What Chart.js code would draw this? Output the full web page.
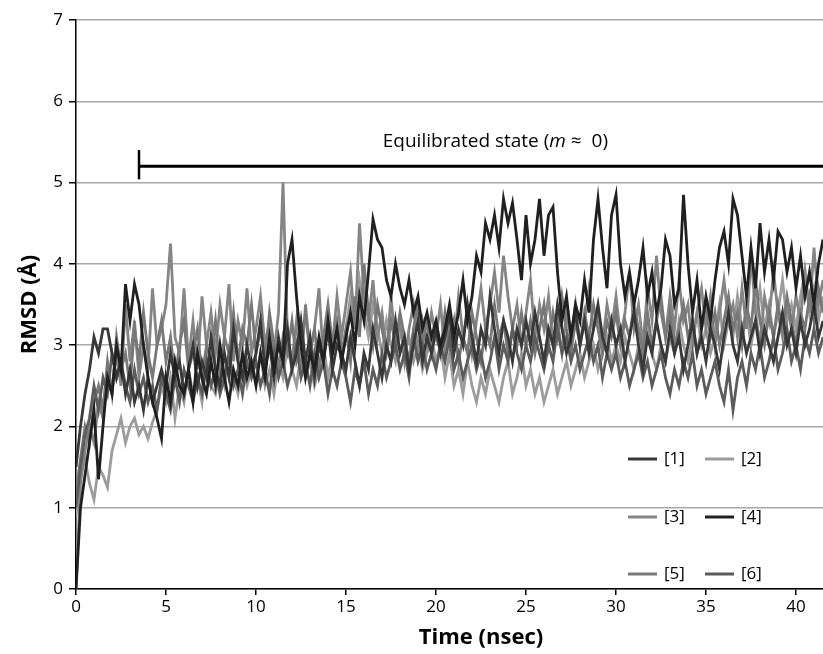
<!DOCTYPE html>
<html>
<head>
<meta charset="utf-8">
<script src="https://cdn.jsdelivr.net/npm/chart.js@4.4.1/dist/chart.umd.min.js"></script>
<style>
  body { margin: 0; background: #fff; }
  #wrap { width: 823px; height: 654px; }
</style>
</head>
<body>
<div id="wrap"><canvas id="rmsdChart" width="823" height="654"></canvas></div>
<script>
// time axis, 0.25 nsec steps up to 41.5
const timeNs = Array.from({ length: 167 }, (_, i) => i * 0.25);

const seriesLabels = ["[1]", "[2]", "[3]", "[4]", "[5]", "[6]"];
const seriesColors = ["#383838", "#9c9c9c", "#858585", "#202020", "#787878", "#5c5c5c"];

const rmsd1 = [
  1.5, 2.0, 2.4, 2.7, 3.1, 2.9, 3.2, 3.2, 2.9, 2.6, 2.8, 2.4, 2.7, 2.3, 2.5, 2.2, 2.6, 2.3, 2.5, 2.7,
  2.5, 2.9, 2.6, 2.8, 2.4, 2.7, 3.0, 2.5, 2.8, 2.6, 3.1, 2.7, 2.5, 2.9, 2.6, 3.2, 2.8, 2.6, 3.0, 2.7,
  2.9, 3.3, 2.7, 3.0, 2.6, 3.1, 2.8, 3.2, 2.7, 2.9, 3.3, 2.8, 3.1, 2.6, 3.0, 2.8, 3.2, 2.7, 3.0, 2.9,
  2.7, 3.1, 2.8, 2.5, 2.9, 2.7, 3.2, 2.9, 2.6, 3.0, 2.8, 3.3, 2.9, 3.1, 2.7, 3.0, 3.3, 2.8, 3.1, 2.9,
  3.2, 2.9, 3.1, 3.4, 2.9, 3.2, 3.0, 3.5, 3.1, 2.8, 3.2, 3.0, 3.6, 3.2, 2.9, 3.3, 3.1, 2.8, 3.2, 3.0,
  3.3, 3.0, 3.4, 3.1, 2.8, 3.2, 3.0, 3.5, 3.2, 2.9, 3.1, 3.4, 3.0, 3.3, 2.9, 3.2, 3.5, 3.1, 2.9, 3.3,
  3.0, 3.2, 2.8, 3.1, 3.4, 3.0, 2.7, 3.1, 2.9, 3.3, 3.0, 2.8, 3.2, 2.9, 3.1, 2.7, 3.0, 3.3, 2.9, 3.1,
  2.8, 3.2, 3.0, 2.7, 3.1, 3.4, 3.0, 2.8, 3.2, 2.9, 3.1, 3.3, 2.9, 3.2, 3.0, 2.8, 3.1, 3.4, 3.0, 3.2,
  2.9, 3.3, 3.0, 3.2, 3.5, 3.1, 3.3
];
const rmsd2 = [
  0.9, 1.4, 1.6, 1.3, 1.1, 1.5, 1.4, 1.25, 1.7, 1.9, 2.1, 1.8, 2.0, 2.1, 1.9, 2.0, 1.85, 2.05, 2.2, 2.5,
  2.3, 2.6, 2.1, 2.5, 2.3, 2.7, 2.4, 2.6, 2.3, 2.8, 2.5, 2.4, 2.7, 2.5, 2.9, 2.6, 2.4, 2.8, 2.5, 2.7,
  2.6, 2.9, 2.5, 2.7, 2.4, 2.8, 2.6, 3.0, 2.7, 2.5, 2.9, 2.6, 2.8, 2.5, 2.7, 3.0, 2.6, 2.9, 3.1, 2.8,
  3.2, 3.6, 3.3, 3.8, 3.4, 3.1, 3.5, 3.2, 2.9, 3.3, 3.0, 2.8, 3.2, 2.9, 3.1, 2.8, 3.0, 2.7, 2.9, 3.1,
  2.8, 3.0, 2.6, 2.9, 2.5, 2.7, 2.4, 2.8, 2.5, 2.3, 2.6, 2.4, 2.7, 2.5, 2.3, 2.6, 2.8, 2.4, 2.6, 2.9,
  2.5, 2.7, 2.4, 2.6, 2.3, 2.5, 2.7, 2.4, 2.6, 2.8, 2.5, 2.7, 2.9, 2.6, 2.8, 3.0, 2.7, 2.9, 3.1, 2.8,
  3.0, 2.8, 3.1, 2.9, 2.7, 3.0, 2.8, 3.2, 2.9, 2.7, 3.0, 2.8, 3.1, 2.9, 3.3, 3.0, 2.8, 3.1, 3.4, 3.0,
  3.2, 2.9, 3.1, 3.5, 3.0, 3.3, 3.1, 3.6, 3.2, 3.4, 3.0, 3.3, 3.7, 3.2, 3.5, 3.1, 3.4, 3.8, 3.3, 3.5,
  3.2, 3.6, 3.9, 3.4, 3.7, 3.3, 3.6
];
const rmsd3 = [
  0.0, 1.3, 1.7, 2.0, 1.8, 2.3, 2.1, 2.6, 2.4, 2.9, 2.5, 3.5, 2.8, 3.3, 2.6, 3.0, 2.7, 3.7, 3.0, 3.2,
  3.5, 4.25, 3.1, 2.9, 3.7, 2.8, 3.3, 2.7, 3.6, 3.0, 3.4, 2.9, 3.5, 3.1, 3.75, 2.8, 3.3, 3.0, 3.7, 2.9,
  3.2, 3.6, 3.0, 3.3, 2.9, 3.4, 5.0, 3.1, 2.8, 3.3, 2.7, 3.5, 2.9, 3.2, 3.7, 2.8, 3.4, 3.0, 3.6, 3.1,
  3.5, 3.9, 3.2, 4.5, 3.6, 3.3, 3.8, 3.1, 3.4, 2.9, 3.6, 3.0, 3.3, 2.8, 3.2, 3.5, 2.9, 3.3, 3.0, 3.4,
  3.1, 3.5, 2.9, 3.3, 3.0, 3.6, 3.1, 3.4, 2.9, 3.3, 3.7, 3.2, 3.5, 3.9, 3.4, 4.1, 3.6, 3.2, 3.5, 3.0,
  3.4, 3.8, 3.1, 3.5, 3.2, 3.6, 3.0, 3.3, 2.9, 3.4, 3.1, 3.5, 3.0, 3.3, 3.7, 3.2, 3.4, 3.0, 3.5, 3.2,
  3.6, 3.1, 3.4, 3.9, 3.2, 3.5, 3.0, 3.7, 3.3, 4.1, 3.4, 3.1, 3.6, 3.2, 3.8, 3.3, 3.5, 3.0, 3.4, 3.7,
  3.2, 3.6, 3.0, 3.4, 3.8, 3.3, 3.5, 3.1, 3.7, 3.2, 4.1, 3.4, 3.0, 3.6, 3.3, 3.9, 3.4, 3.1, 3.5, 3.2,
  3.6, 3.3, 3.9, 3.4, 4.2, 3.5, 3.8
];
const rmsd4 = [
  0.0, 1.0, 1.4, 1.8, 2.2, 1.35, 2.0, 2.6, 2.4, 3.0, 2.7, 3.75, 3.3, 3.75, 3.5, 3.0, 2.6, 2.3, 2.1, 1.85,
  2.6, 2.3, 2.8, 2.5, 2.4, 2.7, 2.3, 2.9, 2.6, 2.4, 2.8, 2.5, 3.0, 2.6, 2.3, 2.7, 2.5, 2.9, 2.6, 2.8,
  2.5, 2.9, 2.6, 3.1, 2.7, 3.0, 2.8, 4.0, 4.3, 3.6, 3.0, 2.6, 2.9, 2.7, 3.1, 2.8, 3.3, 2.9, 3.2, 2.8,
  3.1, 3.4, 3.0, 3.6, 3.3, 3.9, 4.55, 4.3, 4.2, 3.8, 3.6, 4.0, 3.7, 3.5, 3.8, 3.4, 3.6, 3.2, 3.4, 3.1,
  3.3, 3.0, 3.2, 3.5, 3.1, 3.4, 3.8, 3.3, 3.6, 4.1, 3.9, 4.5, 4.3, 4.6, 4.2, 4.8, 4.5, 4.75, 4.3, 3.8,
  4.6, 4.0, 4.3, 4.8, 4.1, 4.6, 4.7, 3.9, 3.3, 3.6, 3.1, 3.5, 3.3, 3.8, 3.4, 4.3, 4.8, 4.2, 3.7, 4.6,
  4.85, 4.0, 3.6, 3.9, 3.5, 3.8, 4.2, 3.6, 3.9, 3.4, 3.7, 4.3, 4.1, 3.5, 3.7, 4.85, 4.0, 3.4, 3.8, 3.2,
  3.6, 3.3, 3.8, 4.2, 4.4, 4.0, 4.8, 4.6, 4.1, 3.6, 4.2, 3.7, 4.5, 3.9, 4.3, 3.8, 4.4, 4.3, 3.9, 4.2,
  3.7, 4.1, 3.6, 3.9, 3.5, 4.0, 4.3
];
const rmsd5 = [
  1.2, 1.6, 2.0, 1.8, 2.3, 2.5, 2.2, 2.8, 2.4, 3.1, 2.7, 2.9, 2.5, 3.2, 2.8, 3.4, 2.9, 2.6, 3.0, 3.3,
  2.8, 3.1, 2.6, 3.0, 3.3, 2.7, 2.9, 3.2, 2.6, 3.0, 2.8, 3.3, 2.7, 3.1, 2.9, 3.4, 2.8, 3.2, 3.0, 3.5,
  2.9, 3.2, 2.8, 3.4, 3.0, 2.7, 3.1, 2.9, 3.3, 2.8, 3.0, 3.4, 2.9, 3.2, 2.7, 3.1, 3.5, 3.0, 3.3, 2.9,
  3.2, 2.8, 3.6, 3.1, 4.0, 3.4, 3.0, 3.5, 3.2, 2.9, 3.3, 3.0, 3.4, 3.1, 2.8, 3.2, 3.5, 3.0, 3.3, 2.9,
  3.2, 2.9, 3.4, 3.0, 3.3, 2.8, 3.1, 2.9, 3.4, 3.1, 2.8, 3.2, 3.0, 3.5, 3.1, 3.3, 2.9, 3.2, 3.0, 3.4,
  3.0, 3.3, 2.9, 3.2, 3.5, 3.0, 3.4, 3.1, 3.6, 3.2, 2.9, 3.3, 3.0, 3.4, 3.1, 3.5, 3.2, 2.9, 3.3, 3.1,
  3.4, 3.0, 3.3, 3.1, 3.5, 3.2, 2.9, 3.4, 3.0, 3.3, 3.6, 3.1, 3.4, 3.0, 3.2, 3.5, 3.1, 3.3, 2.9, 3.2,
  3.5, 3.1, 3.4, 3.0, 3.3, 3.6, 3.2, 3.4, 3.0, 3.5, 3.2, 3.8, 3.3, 3.0, 3.4, 3.1, 3.5, 3.2, 3.6, 3.3,
  3.0, 3.4, 3.2, 3.6, 3.3, 3.7, 3.4
];
const rmsd6 = [
  1.0, 1.5, 1.9, 2.1, 2.5, 2.2, 2.6, 2.4, 2.9, 2.6, 2.8, 2.5, 2.3, 2.7, 2.4, 2.6, 2.3, 2.5, 2.2, 2.6,
  2.4, 2.2, 2.6, 2.3, 2.7, 2.5, 2.3, 2.6, 2.4, 2.8, 2.5, 2.7, 2.4, 2.6, 2.9, 2.5, 2.7, 2.4, 2.8, 2.6,
  2.8, 2.5, 2.7, 2.4, 2.9, 2.6, 2.8, 2.5, 2.7, 3.0, 2.6, 2.8, 2.5, 2.9, 2.6, 2.8, 2.4, 2.7, 2.5, 2.8,
  2.6, 2.3, 2.7, 2.5, 2.8, 2.4, 2.7, 2.5, 2.9, 2.6, 2.8, 3.0, 2.7, 2.9, 2.6, 3.1, 2.8, 3.0, 2.7, 2.9,
  2.7, 3.0, 2.8, 3.1, 2.7, 2.9, 2.6, 2.8, 3.0, 2.7, 2.9, 2.6, 2.8, 3.1, 2.7, 3.0, 2.8, 3.2, 2.9, 2.7,
  3.0, 2.8, 3.1, 2.9, 2.7, 3.0, 2.8, 3.2, 2.9, 3.1, 2.8, 3.0, 2.7, 2.9, 3.1, 2.8, 3.0, 2.6, 2.9, 2.7,
  2.9, 2.6, 2.8, 2.5, 2.7, 2.9, 2.6, 2.8, 2.5, 2.7, 2.9, 2.6, 2.4, 2.7, 2.5, 2.8, 2.6, 2.9, 2.5, 2.7,
  2.4, 2.6, 2.8, 2.5, 2.3, 2.7, 2.2, 2.6, 2.8, 2.5, 2.9, 2.7, 3.0, 2.6, 2.8, 3.1, 2.7, 2.9, 3.2, 2.8,
  3.0, 2.7, 3.1, 2.9, 3.2, 2.9, 3.1
];
const allSeries = [rmsd1, rmsd2, rmsd3, rmsd4, rmsd5, rmsd6];

const xTicks = [0, 5, 10, 15, 20, 25, 30, 35, 40];
const yTicks = [0, 1, 2, 3, 4, 5, 6, 7];

// equilibrated bar: starts at 3.5 nsec, drawn at 5.2 A
const eqStart = 3.5;
const eqLevel = 5.2;
const eqText = ["Equilibrated state (", "m", " \u2248  0)"];

const FONT = "'Open Sans', 'DejaVu Sans', sans-serif";

// ---------------- extra drawing: axis titles, annotation, legend ----------------
const extrasPlugin = {
    id: "extras",
    afterDraw(chart) {
        const ctx = chart.ctx;
        const xs = chart.scales.x;
        const ys = chart.scales.y;
        const area = chart.chartArea;
        ctx.save();

        // annotation bar
        const xa = xs.getPixelForValue(eqStart);
        const yl = ys.getPixelForValue(eqLevel);
        ctx.strokeStyle = "#000";
        ctx.lineWidth = 3;
        ctx.beginPath();
        ctx.moveTo(xa, yl);
        ctx.lineTo(area.right, yl);
        ctx.stroke();
        ctx.lineWidth = 2.5;
        ctx.beginPath();
        ctx.moveTo(xa, ys.getPixelForValue(5.4));
        ctx.lineTo(xa, ys.getPixelForValue(5.04));
        ctx.stroke();

        // annotation text (m in italic)
        ctx.fillStyle = "#000";
        ctx.textBaseline = "middle";
        const normal = "19px " + FONT;
        const italic = "italic 19px " + FONT;
        const widths = eqText.map((t, i) => {
            ctx.font = i === 1 ? italic : normal;
            return ctx.measureText(t).width;
        });
        const total = widths.reduce((a, b) => a + b, 0);
        let tx = xs.getPixelForValue(23.3) - total / 2;
        const ty = ys.getPixelForValue(5.51);
        eqText.forEach((t, i) => {
            ctx.font = i === 1 ? italic : normal;
            ctx.textAlign = "left";
            ctx.fillText(t, tx, ty);
            tx += widths[i];
        });

        // axis titles
        ctx.font = "bold 22px " + FONT;
        ctx.textAlign = "center";
        ctx.fillText("Time (nsec)", xs.getPixelForValue(22.5), 638);
        ctx.save();
        ctx.translate(30, (area.top + area.bottom) / 2);
        ctx.rotate(-Math.PI / 2);
        ctx.fillText("RMSD (\u00c5)", 0, 0);
        ctx.restore();

        // legend, 3 rows x 2 columns
        ctx.font = "17px " + FONT;
        ctx.textAlign = "left";
        const colX = [area.right - 195, area.right - 118];
        const rowY = [459, 517, 574];
        chart.data.datasets.forEach((ds, i) => {
            const cx = colX[i % 2];
            const cy = rowY[Math.floor(i / 2)];
            ctx.strokeStyle = ds.borderColor;
            ctx.lineWidth = 3;
            ctx.beginPath();
            ctx.moveTo(cx, cy);
            ctx.lineTo(cx + 29, cy);
            ctx.stroke();
            ctx.fillStyle = "#000";
            ctx.fillText(ds.label, cx + 36, cy);
        });

        ctx.restore();
    }
};

const ctx = document.getElementById("rmsdChart").getContext("2d");
new Chart(ctx, {
    type: "line",
    data: {
        datasets: allSeries.map((vals, i) => ({
            label: seriesLabels[i],
            data: vals.map((v, j) => ({ x: timeNs[j], y: v })),
            borderColor: seriesColors[i],
            borderWidth: 2.8,
            pointRadius: 0,
            tension: 0,
            order: i === 3 ? 0 : (i === 0 ? 1 : 6 - i + 1)
        }))
    },
    options: {
        responsive: false,
        animation: false,
        layout: { padding: { top: 20, right: 0, bottom: 0, left: 0 } },
        plugins: {
            legend: { display: false },
            tooltip: { enabled: false }
        },
        scales: {
            x: {
                type: "linear",
                min: 0,
                max: 41.5,
                afterFit: (scale) => { scale.height = 65; },
                afterBuildTicks: (scale) => { scale.ticks = xTicks.map(v => ({ value: v })); },
                grid: { drawOnChartArea: false, drawTicks: true, tickLength: 6, tickColor: "#000", lineWidth: 1.5 },
                border: { color: "#000", width: 1.5 },
                ticks: { color: "#000", font: { family: FONT, size: 17 }, padding: 2, maxRotation: 0 }
            },
            y: {
                min: 0,
                max: 7,
                afterFit: (scale) => { scale.width = 76; },
                afterBuildTicks: (scale) => { scale.ticks = yTicks.map(v => ({ value: v })); },
                grid: { color: "#a8a8a8", lineWidth: 1.5, tickLength: 7, tickColor: "#000" },
                border: { color: "#000", width: 1.5 },
                ticks: { color: "#000", font: { family: FONT, size: 17 }, padding: 6 }
            }
        }
    },
    plugins: [extrasPlugin]
});
</script>
</body>
</html>
